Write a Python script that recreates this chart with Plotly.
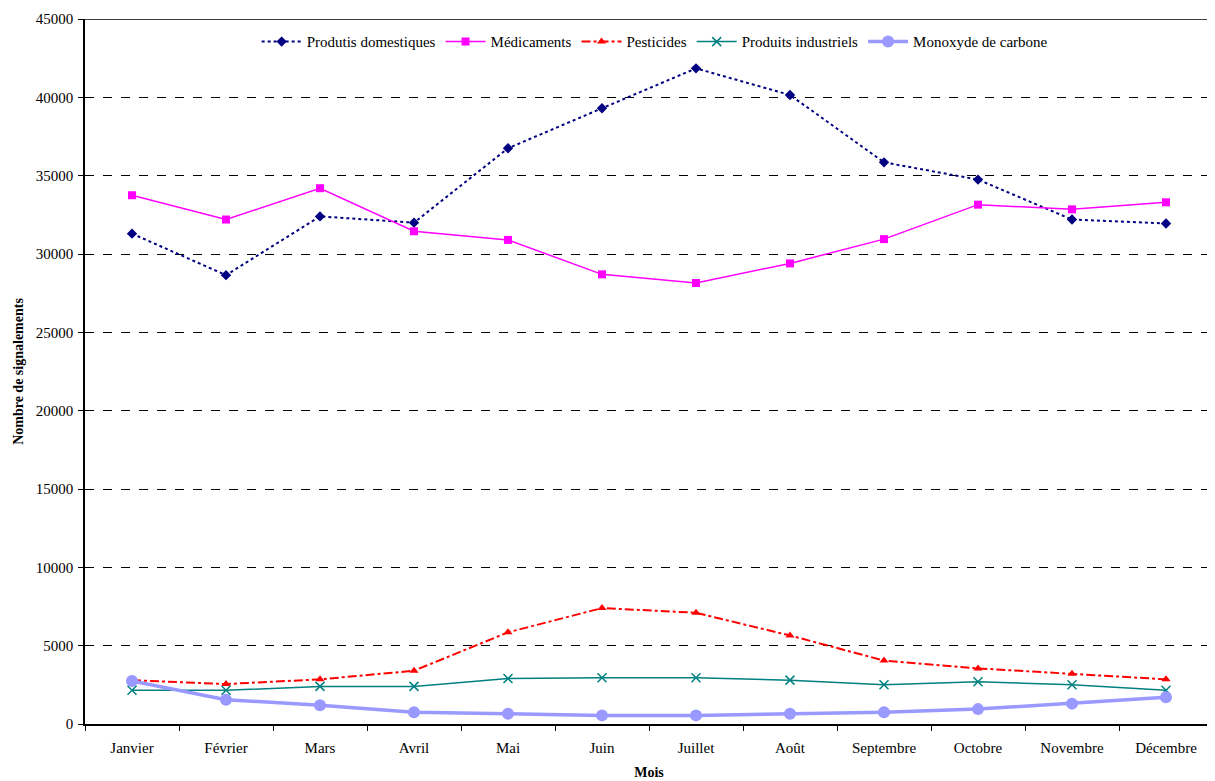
import plotly.graph_objects as go

mois = ["Janvier", "Février", "Mars", "Avril", "Mai", "Juin", "Juillet", "Août",
        "Septembre", "Octobre", "Novembre", "Décembre"]
domestiques = [31300, 28650, 32400, 32000, 36750, 39300, 41850, 40150, 35850, 34750, 32200, 31950]
medicaments = [33750, 32200, 34200, 31450, 30900, 28700, 28150, 29400, 30950, 33150, 32850, 33300]
pesticides = [2800, 2550, 2850, 3400, 5850, 7400, 7100, 5650, 4050, 3550, 3200, 2850]
industriels = [2150, 2150, 2400, 2400, 2900, 2950, 2950, 2800, 2500, 2700, 2500, 2150]
monoxyde = [2750, 1550, 1200, 750, 650, 550, 550, 650, 750, 950, 1300, 1700]
y_ticks = [0, 5000, 10000, 15000, 20000, 25000, 30000, 35000, 40000, 45000]

font = "Liberation Serif"

fig = go.Figure()
fig.add_trace(go.Scatter(x=mois, y=domestiques, name="Produtis domestiques", mode="lines+markers",
                         line=dict(color="#000080", width=2, dash="dot"),
                         marker=dict(symbol="diamond", size=8, color="#000080")))
fig.add_trace(go.Scatter(x=mois, y=medicaments, name="Médicaments", mode="lines+markers",
                         line=dict(color="#FF00FF", width=1.5),
                         marker=dict(symbol="square", size=8, color="#FF00FF")))
fig.add_trace(go.Scatter(x=mois, y=pesticides, name="Pesticides", mode="lines+markers",
                         line=dict(color="#FF0000", width=2, dash="dashdot"),
                         marker=dict(symbol="triangle-up", size=8, color="#FF0000")))
fig.add_trace(go.Scatter(x=mois, y=industriels, name="Produits industriels", mode="lines+markers",
                         line=dict(color="#008080", width=1.5),
                         marker=dict(symbol="x-thin", size=9, color="#008080",
                                     line=dict(color="#008080", width=1.5))))
fig.add_trace(go.Scatter(x=mois, y=monoxyde, name="Monoxyde de carbone", mode="lines+markers",
                         line=dict(color="#9999FF", width=3.5),
                         marker=dict(symbol="circle", size=12, color="#9999FF")))

fig.add_shape(type="line", xref="paper", yref="y", x0=0, x1=1, y0=45000, y1=45000,
              line=dict(color="black", width=1.5))

fig.update_layout(
    width=1207, height=773,
    margin=dict(l=77, r=2, t=11, b=57),
    paper_bgcolor="white", plot_bgcolor="white",
    font=dict(family=font, size=15, color="black"),
    legend=dict(orientation="h", x=0.505, xanchor="center", y=0.991, yanchor="top",
                font=dict(family=font, size=15, color="black"), bgcolor="rgba(0,0,0,0)",
                itemwidth=40, tracegroupgap=0),
    showlegend=True,
)
fig.update_xaxes(
    type="category", tickson="boundaries", ticks="outside", ticklen=5, tickcolor="black",
    showline=True, linecolor="black", linewidth=1.5, showgrid=False,
    tickfont=dict(family=font, size=15), ticklabelstandoff=9,
    title=dict(text="<b>Mois</b>", font=dict(family=font, size=14), standoff=12),
    range=[-0.5, 11.5], automargin=False,
)
fig.update_yaxes(
    range=[0, 45000], tickvals=y_ticks, tickformat="d", ticks="outside", ticklen=5, tickcolor="black",
    showline=True, linecolor="black", linewidth=1.5,
    showgrid=True, gridcolor="black", griddash="dash", gridwidth=0.8,
    zeroline=False,
    tickfont=dict(family=font, size=15), ticklabelstandoff=2,
    title=dict(text="<b>Nombre de signalements</b>", font=dict(family=font, size=14), standoff=9),
    automargin=False,
)

fig.write_html("out.html")
